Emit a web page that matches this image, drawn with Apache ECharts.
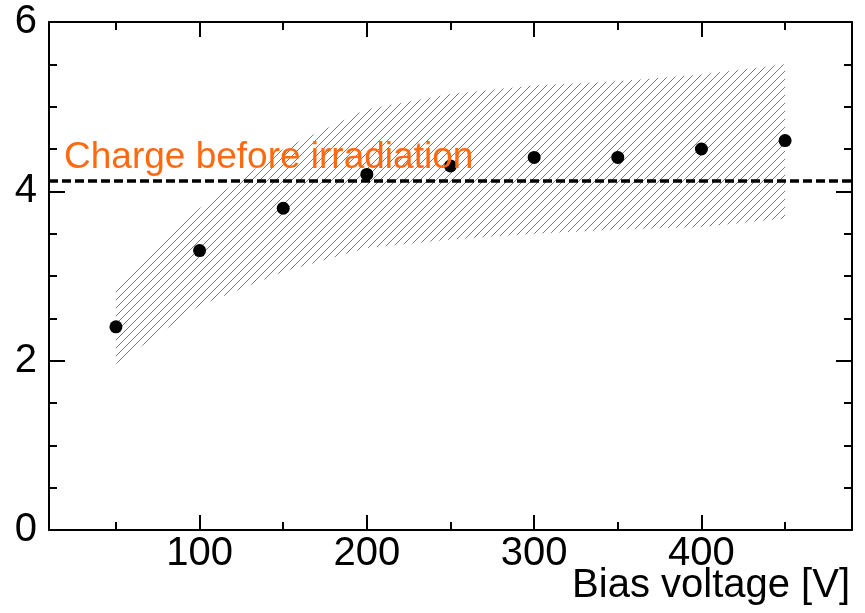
<!DOCTYPE html>
<html>
<head>
<meta charset="utf-8">
<script src="https://cdn.jsdelivr.net/npm/echarts@6/dist/echarts.min.js"></script>
<style>
html,body{margin:0;padding:0;background:#fff;}
#chart{width:865px;height:613px;}
</style>
</head>
<body>
<div id="chart"></div>
<script>
// ---- data ----
var biasVoltage = [50, 100, 150, 200, 250, 300, 350, 400, 450];
var charge      = [2.4, 3.3, 3.8, 4.2, 4.3, 4.4, 4.4, 4.5, 4.6];
var bandLower   = [1.96, 2.65, 3.05, 3.33, 3.43, 3.5, 3.55, 3.58, 3.68];
var bandUpper   = [2.89, 3.8, 4.5, 4.97, 5.15, 5.25, 5.3, 5.38, 5.5];
var chargeBeforeIrradiation = 4.13;
var xMajorTicks = [100, 200, 300, 400];
var xMinorTicks = [50, 150, 250, 350, 450];
var xRange = [10, 490];
var yRange = [0, 6];
var yInterval = 2;
var referenceLabel = 'Charge before irradiation';
var xTitle = 'Bias voltage [V]';

// hatch pattern
var T = 8;
var tile = document.createElement('canvas');
tile.width = T; tile.height = T;
var c = tile.getContext('2d');
c.strokeStyle = '#6a6a6a';
c.lineWidth = 0.9;
c.beginPath();
c.moveTo(-1, T + 1); c.lineTo(T + 1, -1);
c.moveTo(-1, 1); c.lineTo(1, -1);
c.moveTo(T - 1, T + 1); c.lineTo(T + 1, T - 1);
c.stroke();

var pointData = biasVoltage.map(function (x, i) { return [x, charge[i]]; });

var axisLine = { show: true, lineStyle: { color: '#000', width: 2 } };
var font = 'Liberation Sans, Arial, sans-serif';

function xAxisDef(pos, ticks, len, showLine, showLabel) {
  return {
    type: 'value', position: pos, min: xRange[0], max: xRange[1],
    axisLine: showLine ? axisLine : { show: false },
    axisTick: { show: true, inside: true, length: len, customValues: ticks, lineStyle: { color: '#000', width: 2 } },
    axisLabel: showLabel ? { show: true, customValues: xMajorTicks, color: '#000', fontSize: 40, fontFamily: font, margin: 4 } : { show: false },
    splitLine: { show: false }
  };
}

function renderBand(params, api) {
  if (params.dataIndex !== 0) return null;
  var pts = [];
  for (var i = 0; i < biasVoltage.length; i++) pts.push(api.coord([biasVoltage[i], bandUpper[i]]));
  for (var j = biasVoltage.length - 1; j >= 0; j--) pts.push(api.coord([biasVoltage[j], bandLower[j]]));
  return {
    type: 'polygon',
    shape: { points: pts },
    style: { fill: { image: tile, repeat: 'repeat' }, stroke: null },
    silent: true
  };
}

var chart = echarts.init(document.getElementById('chart'), null, { renderer: 'canvas' });
chart.setOption({
  animation: false,
  backgroundColor: '#fff',
  grid: { left: 49, right: 13, top: 22, bottom: 83, containLabel: false },
  xAxis: [
    xAxisDef('bottom', xMajorTicks, 15, true, true),
    xAxisDef('bottom', xMinorTicks, 8, false, false),
    xAxisDef('top', xMajorTicks, 15, true, false),
    xAxisDef('top', xMinorTicks, 8, false, false)
  ],
  yAxis: [
    {
      type: 'value', position: 'left', min: yRange[0], max: yRange[1], interval: yInterval,
      axisLine: axisLine,
      axisTick: { show: true, inside: true, length: 16, lineStyle: { color: '#000', width: 2 } },
      minorTick: { show: true, splitNumber: 4, length: 8, lineStyle: { color: '#000', width: 2 } },
      axisLabel: { color: '#000', fontSize: 40, fontFamily: font, margin: 12 },
      splitLine: { show: false }
    },
    {
      type: 'value', position: 'right', min: yRange[0], max: yRange[1], interval: yInterval,
      axisLine: axisLine,
      axisTick: { show: true, inside: true, length: 16, lineStyle: { color: '#000', width: 2 } },
      minorTick: { show: true, splitNumber: 4, length: 8, lineStyle: { color: '#000', width: 2 } },
      axisLabel: { show: false },
      splitLine: { show: false }
    }
  ],
  series: [
    {
      type: 'custom',
      data: biasVoltage.map(function (x, i) { return [x, bandLower[i], bandUpper[i]]; }),
      encode: { x: 0, y: [1, 2] },
      renderItem: renderBand,
      silent: true, z: 1
    },
    {
      type: 'scatter', data: pointData, symbol: 'circle', symbolSize: 13,
      itemStyle: { color: '#000', opacity: 1 }, z: 5,
      markLine: {
        silent: true, symbol: 'none', label: { show: false },
        lineStyle: { color: '#000', width: 3.5, type: [9, 4] },
        data: [{ yAxis: chargeBeforeIrradiation }]
      }
    }
  ],
  graphic: [
    {
      type: 'text', left: 64, top: 139, z: 10,
      style: { text: referenceLabel, fill: '#ff6a10', fontSize: 37, fontFamily: font }
    },
    {
      type: 'text', right: 15, top: 566, z: 10,
      style: { text: xTitle, fill: '#000', fontSize: 40, fontFamily: font }
    }
  ]
});
</script>
</body>
</html>
